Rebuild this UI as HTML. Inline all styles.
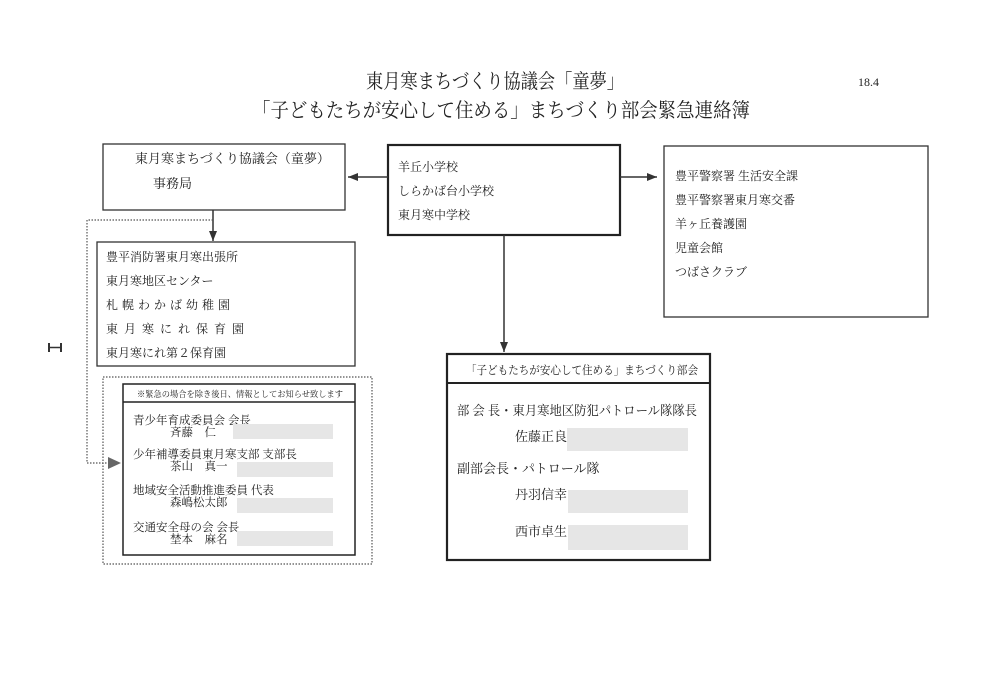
<!DOCTYPE html>
<html><head><meta charset="utf-8"><style>
html,body{margin:0;padding:0;background:#fff;}
svg{display:block}
text{font-family:"Liberation Serif","Noto Serif CJK SC",serif;fill:#222;}
</style></head><body>
<svg width="989" height="700" viewBox="0 0 989 700" xmlns="http://www.w3.org/2000/svg">
<defs>
<marker id="ah" markerWidth="10" markerHeight="8" refX="10" refY="4" orient="auto" markerUnits="userSpaceOnUse">
<path d="M0,0 L10,4 L0,8 z" fill="#333"/></marker>
</defs>
<rect width="989" height="700" fill="#fff"/>
<text x="366" y="88" font-size="20" textLength="258" lengthAdjust="spacingAndGlyphs">東月寒まちづくり協議会「童夢」</text>
<text x="252" y="117" font-size="20" textLength="498" lengthAdjust="spacingAndGlyphs">「子どもたちが安心して住める」まちづくり部会緊急連絡簿</text>
<text x="858" y="86" font-size="12">18.4</text>
<line x1="49" y1="343" x2="49" y2="352" stroke="#333" stroke-width="2"/>
<line x1="49" y1="347.5" x2="61" y2="347.5" stroke="#333" stroke-width="1.5"/>
<line x1="61" y1="343" x2="61" y2="352" stroke="#333" stroke-width="2"/>

<rect x="103" y="144" width="242" height="66" fill="none" stroke="#333" stroke-width="1.3"/>
<text x="135" y="163" font-size="13">東月寒まちづくり協議会（童夢）</text>
<text x="153" y="188" font-size="13">事務局</text>

<rect x="388" y="145" width="232" height="90" fill="none" stroke="#222" stroke-width="2.2"/>
<text x="398" y="171" font-size="12">羊丘小学校</text>
<text x="398" y="195" font-size="12">しらかば台小学校</text>
<text x="398" y="219" font-size="12">東月寒中学校</text>

<rect x="664" y="146" width="264" height="171" fill="none" stroke="#333" stroke-width="1.3"/>
<text x="675" y="180" font-size="12">豊平警察署 生活安全課</text>
<text x="675" y="204" font-size="12">豊平警察署東月寒交番</text>
<text x="675" y="228" font-size="12">羊ヶ丘養護園</text>
<text x="675" y="252" font-size="12">児童会館</text>
<text x="675" y="276" font-size="12">つばさクラブ</text>

<line x1="388" y1="177" x2="348" y2="177" stroke="#333" stroke-width="1.5" marker-end="url(#ah)"/>
<line x1="620" y1="177" x2="657" y2="177" stroke="#333" stroke-width="1.5" marker-end="url(#ah)"/>
<line x1="504" y1="235" x2="504" y2="352" stroke="#333" stroke-width="1.5" marker-end="url(#ah)"/>
<line x1="213" y1="210" x2="213" y2="241" stroke="#333" stroke-width="1.5" marker-end="url(#ah)"/>

<rect x="97" y="242" width="258" height="124" fill="none" stroke="#333" stroke-width="1.3"/>
<text x="106" y="261" font-size="12">豊平消防署東月寒出張所</text>
<text x="106" y="285" font-size="12">東月寒地区センター</text>
<text x="106" y="309" font-size="12" letter-spacing="4">札幌わかば幼稚園</text>
<text x="106" y="333" font-size="12" letter-spacing="6">東月寒にれ保育園</text>
<text x="106" y="357" font-size="12">東月寒にれ第２保育園</text>

<polyline points="213,220 87,220 87,463 108,463" fill="none" stroke="#555" stroke-width="1.2" stroke-dasharray="1.5,1.5"/>
<path d="M108,457 L121,463 L108,469 z" fill="#666"/>

<rect x="103" y="377" width="269" height="187" fill="none" stroke="#555" stroke-width="1.2" stroke-dasharray="1.5,1.5"/>
<rect x="123" y="384" width="232" height="171" fill="none" stroke="#222" stroke-width="1.5"/>
<line x1="123" y1="402" x2="355" y2="402" stroke="#222" stroke-width="1.5"/>
<text x="137" y="397" font-size="8.5" textLength="206" lengthAdjust="spacingAndGlyphs">※緊急の場合を除き後日、情報としてお知らせ致します</text>
<text x="133" y="424" font-size="11.5">青少年育成委員会 会長</text>
<text x="170" y="436" font-size="11.5">斉藤　仁</text>
<rect x="233" y="424" width="100" height="15" fill="#e6e6e6"/>
<text x="133" y="458" font-size="11.5">少年補導委員東月寒支部 支部長</text>
<text x="170" y="470" font-size="11.5">茶山　真一</text>
<rect x="237" y="462" width="96" height="15" fill="#e6e6e6"/>
<text x="133" y="494" font-size="11.5">地域安全活動推進委員 代表</text>
<text x="170" y="506" font-size="11.5">森嶋松太郎</text>
<rect x="237" y="498" width="96" height="15" fill="#e6e6e6"/>
<text x="133" y="531" font-size="11.5">交通安全母の会 会長</text>
<text x="170" y="543" font-size="11.5">埜本　麻名</text>
<rect x="237" y="531" width="96" height="15" fill="#e6e6e6"/>

<rect x="447" y="354" width="263" height="206" fill="none" stroke="#222" stroke-width="2.2"/>
<line x1="447" y1="383" x2="710" y2="383" stroke="#222" stroke-width="2"/>
<text x="466" y="374" font-size="11.5" textLength="232" lengthAdjust="spacingAndGlyphs">「子どもたちが安心して住める」まちづくり部会</text>
<text x="457" y="415" font-size="13" textLength="240" lengthAdjust="spacingAndGlyphs">部 会 長・東月寒地区防犯パトロール隊隊長</text>
<text x="515" y="441" font-size="13">佐藤正良</text>
<rect x="567" y="428" width="121" height="23" fill="#e6e6e6"/>
<text x="457" y="473" font-size="13">副部会長・パトロール隊</text>
<text x="515" y="499" font-size="13">丹羽信幸</text>
<rect x="568" y="490" width="120" height="23" fill="#e6e6e6"/>
<text x="515" y="536" font-size="13">西市卓生</text>
<rect x="568" y="525" width="120" height="25" fill="#e6e6e6"/>
</svg>
</body></html>
